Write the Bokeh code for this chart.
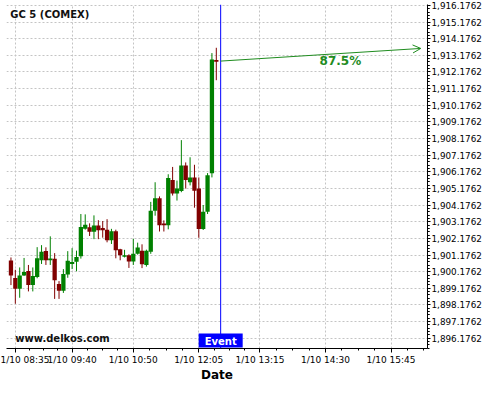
from bokeh.plotting import figure
from bokeh.models import FixedTicker, NumeralTickFormatter, Span, Label, Arrow, OpenHead, Range1d
from bokeh.embed import file_html
from bokeh.resources import INLINE

symbol = "GC 5 (COMEX)"
watermark = "www.delkos.com"
x_label = "Date"

times = ["08:30", "08:35", "08:40", "08:45", "08:50", "08:55", "09:00", "09:05",
         "09:10", "09:15", "09:20", "09:25", "09:30", "09:35", "09:40", "09:45",
         "09:50", "09:55", "10:00", "10:05", "10:10", "10:15", "10:20", "10:25",
         "10:30", "10:35", "10:40", "10:45", "10:50", "10:55", "11:00", "11:05",
         "11:10", "11:15", "11:20", "11:25", "11:30", "11:35", "11:40", "11:45",
         "11:50", "11:55", "12:00", "12:05", "12:10", "12:15", "12:20", "12:25"]

opens = [1900.85, 1899.80, 1899.15, 1899.95, 1900.22, 1899.38, 1899.86, 1900.87,
         1901.42, 1900.87, 1900.95, 1899.43, 1899.03, 1900.00, 1900.64, 1900.77,
         1901.10, 1902.76, 1902.84, 1902.57, 1902.95, 1902.80, 1902.70, 1902.07,
         1902.61, 1901.52, 1901.08, 1901.17, 1900.79, 1901.25, 1901.44, 1900.58,
         1901.38, 1903.83, 1904.59, 1903.07, 1902.97, 1905.69, 1904.88, 1905.02,
         1906.55, 1905.55, 1905.84, 1905.17, 1902.74, 1903.77, 1906.09, 1912.90]
highs = [1901.03, 1900.29, 1900.43, 1901.00, 1900.58, 1900.43, 1901.65, 1901.77,
         1901.64, 1902.30, 1901.29, 1899.61, 1900.33, 1901.41, 1901.59, 1901.44,
         1903.64, 1903.62, 1903.08, 1903.56, 1903.27, 1903.22, 1903.33, 1902.75,
         1902.70, 1901.55, 1901.49, 1901.22, 1902.15, 1901.92, 1901.82, 1901.50,
         1904.37, 1905.55, 1904.70, 1903.26, 1906.03, 1906.47, 1905.65, 1908.08,
         1906.74, 1907.05, 1906.60, 1905.84, 1904.18, 1906.10, 1913.31, 1913.63]
lows = [1899.37, 1898.25, 1898.61, 1899.92, 1898.99, 1898.99, 1899.78, 1900.64,
        1900.58, 1900.58, 1898.54, 1898.54, 1898.90, 1899.81, 1900.33, 1900.20,
        1900.96, 1902.70, 1902.32, 1902.13, 1902.13, 1902.22, 1901.94, 1901.84,
        1900.98, 1900.86, 1901.03, 1900.40, 1900.58, 1901.20, 1900.39, 1900.48,
        1901.25, 1903.54, 1902.59, 1902.59, 1902.72, 1904.75, 1904.45, 1904.95,
        1905.17, 1905.36, 1904.02, 1902.21, 1902.68, 1903.64, 1905.84, 1911.68]
closes = [1899.94, 1899.15, 1899.95, 1900.16, 1899.38, 1899.92, 1900.98, 1901.37,
          1900.87, 1900.97, 1899.66, 1899.03, 1900.04, 1900.84, 1900.76, 1901.06,
          1902.86, 1902.99, 1902.57, 1902.95, 1902.67, 1902.67, 1902.07, 1902.61,
          1901.46, 1901.17, 1901.17, 1900.79, 1901.25, 1901.63, 1900.62, 1901.44,
          1903.83, 1904.59, 1902.97, 1902.97, 1905.80, 1904.88, 1905.17, 1906.55,
          1905.69, 1905.84, 1905.04, 1902.74, 1903.77, 1905.97, 1912.92, 1912.79]

x_tick_times = ["08:35", "09:40", "10:50", "12:05", "13:15", "14:30", "15:45"]
x_tick_labels = ["1/10 08:35", "1/10 09:40", "1/10 10:50", "1/10 12:05",
                 "1/10 13:15", "1/10 14:30", "1/10 15:45"]
y_ticks = [1896.1762, 1897.1762, 1898.1762, 1899.1762, 1900.1762, 1901.1762,
           1902.1762, 1903.1762, 1904.1762, 1905.1762, 1906.1762, 1907.1762,
           1908.1762, 1909.1762, 1910.1762, 1911.1762, 1912.1762, 1913.1762,
           1914.1762, 1915.1762, 1916.1762]

event_time = "12:30"
event_text = "Event"
arrow_start_time, arrow_start_price = "12:30", 1912.83
arrow_end_time, arrow_end_price = "16:19", 1913.59
arrow_text = "87.5%"
arrow_text_time, arrow_text_price = "14:47", 1912.85

y_start, y_end = 1895.56, 1916.23


def tm(s):
    h, m = s.split(":")
    return int(h) * 60 + int(m)


GREEN = "#008000"
RED = "#800000"
ARROW_GREEN = "#1f8c1f"
FONT = "DejaVu Sans"

xs = [tm(t) for t in times]
colors = [GREEN if c >= o else RED for o, c in zip(opens, closes)]
tops = [max(o, c) for o, c in zip(opens, closes)]
bottoms = [min(o, c) for o, c in zip(opens, closes)]

p = figure(width=484, height=384, output_backend="svg", toolbar_location=None,
           x_range=Range1d(504.9, 986.7),
           y_range=Range1d(y_start, y_end),
           y_axis_location="right",
           min_border_left=6, min_border_top=4, min_border_right=0,
           min_border_bottom=0)
p.outline_line_color = None
p.background_fill_color = "white"
p.border_fill_color = "white"

# ticks
xt = [tm(t) for t in x_tick_times]
xminor = []
for a, b in zip(xt[:-1], xt[1:]):
    step = (b - a) / 4
    xminor += [a + step * k for k in range(1, 4)]
last_step = (xt[-1] - xt[-2]) / 4
xminor += [xt[-1] + last_step * k for k in range(1, 3)]
x_ticker = FixedTicker(ticks=xt, minor_ticks=xminor)
ymin = []
for v in y_ticks:
    ymin += [v + 0.2 * k for k in range(-4, 5)]
y_ticker = FixedTicker(ticks=y_ticks, minor_ticks=ymin)

p.xaxis.ticker = x_ticker
p.xaxis.major_label_overrides = {t: l for t, l in zip(xt, x_tick_labels)}
p.yaxis.ticker = y_ticker
p.yaxis.formatter = NumeralTickFormatter(format="0,0.0000")

p.xgrid.ticker = x_ticker
p.ygrid.ticker = y_ticker
for g in (p.xgrid, p.ygrid):
    g.grid_line_color = "#c4c4c4"
    g.grid_line_dash = "2 2"
    g.grid_line_width = 1

for ax in (p.xaxis, p.yaxis):
    ax.axis_line_color = "black"
    ax.major_tick_line_color = "black"
    ax.minor_tick_line_color = "black"
    ax.major_tick_in = 0
    ax.major_tick_out = 4
    ax.minor_tick_in = 0
    ax.minor_tick_out = 2
    ax.major_label_text_font = FONT
    ax.major_label_text_color = "black"

p.xaxis.major_label_text_font_size = "9px"
p.xaxis.major_label_standoff = 2
p.yaxis.major_label_text_font_size = "8.8px"
p.yaxis.major_label_standoff = 1
p.yaxis.major_tick_out = 3
p.xaxis.axis_label = x_label
p.xaxis.axis_label_text_font = FONT
p.xaxis.axis_label_text_font_size = "12px"
p.xaxis.axis_label_text_font_style = "bold"
p.xaxis.axis_label_text_color = "black"
p.xaxis.axis_label_standoff = 0

# candles
p.segment(x0=xs, y0=lows, x1=xs, y1=highs, line_color=colors, line_width=1)
p.vbar(x=xs, width=4.9, top=tops, bottom=bottoms, fill_color=colors,
       line_color=None)

# event line
ev = tm(event_time)
p.add_layout(Span(location=ev, dimension="height", line_color="#0000ff",
                  line_width=1))
p.add_layout(Label(x=ev, y=y_start, text=event_text, text_align="center",
                   text_baseline="bottom", text_font=FONT,
                   text_font_size="10px", text_font_style="bold",
                   text_color="white", background_fill_color="#0000ff",
                   padding=dict(left=6, right=6, top=2, bottom=1), y_offset=1))

# arrow
p.add_layout(Arrow(end=OpenHead(size=8, line_color=ARROW_GREEN, line_width=1),
                   x_start=tm(arrow_start_time), y_start=arrow_start_price,
                   x_end=tm(arrow_end_time), y_end=arrow_end_price,
                   line_color=ARROW_GREEN, line_width=1))
p.add_layout(Label(x=tm(arrow_text_time), y=arrow_text_price, text=arrow_text,
                   text_align="center", text_baseline="middle", text_font=FONT,
                   text_font_size="12px", text_font_style="bold",
                   text_color=ARROW_GREEN))

# texts
p.add_layout(Label(x=tm("08:30") - 0.7, y=1915.62, text=symbol,
                   text_align="left", text_baseline="middle", text_font=FONT,
                   text_font_size="10px", text_font_style="bold",
                   text_color="#111111"))
p.add_layout(Label(x=tm("08:35"), y=1896.16, text=watermark,
                   text_align="left", text_baseline="middle", text_font=FONT,
                   text_font_size="10px", text_font_style="bold",
                   text_color="#111111"))

open("out.html", "w").write(file_html(p, INLINE))
